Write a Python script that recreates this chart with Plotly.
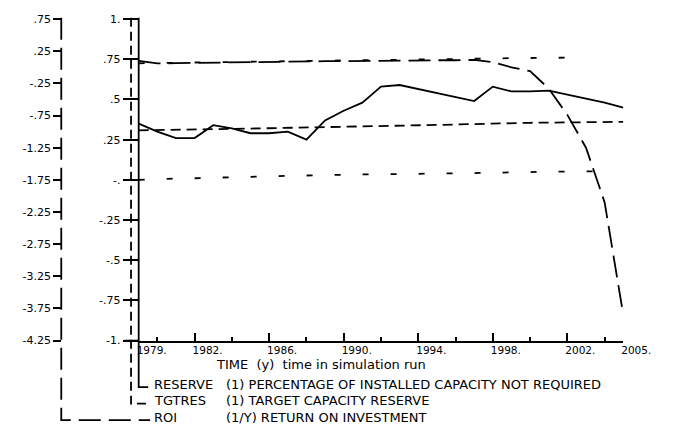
import plotly.graph_objects as go

W, H = 679, 432

# ---------------- data ----------------
years = list(range(1979, 2006))

reserve = [0.35, 0.30, 0.26, 0.26, 0.34, 0.32, 0.29, 0.29, 0.30, 0.25,
           0.37, 0.43, 0.48, 0.58, 0.59, 0.565, 0.54, 0.515, 0.49, 0.58,
           0.55, 0.55, 0.555, 0.53, 0.505, 0.48, 0.45]

tgtres = [0.308, 0.309, 0.311, 0.313, 0.315, 0.317, 0.319, 0.321, 0.322, 0.324,
          0.326, 0.328, 0.330, 0.332, 0.335, 0.338, 0.341, 0.344, 0.347, 0.351,
          0.353, 0.355, 0.356, 0.357, 0.358, 0.359, 0.361]

roi = [0.10, 0.06, 0.065, 0.07, 0.075, 0.08, 0.085, 0.085, 0.09, 0.09,
       0.095, 0.095, 0.10, 0.10, 0.105, 0.105, 0.11, 0.11, 0.115, 0.08,
       0.00, -0.06, -0.33, -0.74, -1.25, -2.10, -3.85]

upper_dotted = [0.725, 0.727, 0.729, 0.731, 0.733, 0.735, 0.737, 0.739, 0.740, 0.741,
                0.742, 0.743, 0.744, 0.745, 0.746, 0.747, 0.749, 0.751, 0.753, 0.755,
                0.757, 0.758, 0.760, 0.760, None, None, None]

lower_dotted = [0.0, 0.005, 0.008, 0.010, 0.012, 0.015, 0.018, 0.022, 0.025, 0.028,
                0.030, 0.033, 0.035, 0.036, 0.036, 0.037, 0.038, 0.040, 0.042, 0.044,
                0.047, 0.050, 0.051, 0.052, 0.053, 0.054, None]

x_tick_years = [1979, 1982, 1986, 1990, 1994, 1998, 2002, 2005]
x_tick_text = ["1979.", "1982.", "1986.", "1990.", "1994.", "1998.", "2002.", "2005."]
x_minor_years = [1980, 1984, 1988, 1992, 1996, 2000, 2004]

left_tick_vals = [1, 0.75, 0.5, 0.25, 0, -0.25, -0.5, -0.75, -1]
left_tick_text = ["1.", ".75", ".5", ".25", "-.", "-.25", "-.5", "-.75", "-1."]

roi_tick_vals = [0.75, 0.25, -0.25, -0.75, -1.25, -1.75, -2.25, -2.75, -3.25, -3.75, -4.25]
roi_tick_text = [".75", ".25", "-.25", "-.75", "-1.25", "-1.75", "-2.25", "-2.75",
                 "-3.25", "-3.75", "-4.25"]

legend_names = ["RESERVE", "TGTRES", "ROI"]
legend_desc = ["(1) PERCENTAGE OF INSTALLED CAPACITY NOT REQUIRED",
               "(1) TARGET CAPACITY RESERVE",
               "(1/Y) RETURN ON INVESTMENT"]
x_title = "TIME  (y)  time in simulation run"

# ---------------- layout helpers ----------------
def px(x):
    return x / W

def py(y):
    return 1 - y / H

FONT = "DejaVu Sans, Liberation Sans, sans-serif"
LW = 1.8

X0, X1 = 143, 650          # 1979 .. 2005
Y_TOP, Y_BOT = 13.5, 345   # +1 .. -1
AX_RES = 143
AX_TGT = 135
AX_ROI = 62

fig = go.Figure()

fig.add_trace(go.Scatter(x=years, y=reserve, mode="lines", name="RESERVE",
                         line=dict(color="black", width=LW)))
fig.add_trace(go.Scatter(x=years, y=tgtres, mode="lines", name="TGTRES",
                         line=dict(color="black", width=LW, dash="10px,6px")))
fig.add_trace(go.Scatter(x=years, y=upper_dotted, mode="lines", showlegend=False,
                         line=dict(color="black", width=LW, dash="6px,22px")))
fig.add_trace(go.Scatter(x=years, y=lower_dotted, mode="lines", showlegend=False,
                         line=dict(color="black", width=LW, dash="6px,22px")))
fig.add_trace(go.Scatter(x=years, y=roi, mode="lines", name="ROI", yaxis="y2",
                         line=dict(color="black", width=LW, dash="22px,8px")))

dom_y = [py(Y_BOT), py(Y_TOP)]

fig.update_layout(
    width=W, height=H,
    margin=dict(l=0, r=0, t=0, b=0),
    paper_bgcolor="white", plot_bgcolor="white",
    showlegend=False,
    font=dict(family=FONT, size=11, color="black"),
    xaxis=dict(
        domain=[px(X0), px(X1)], range=[1979, 2005], anchor="y",
        showgrid=False, zeroline=False,
        showline=True, linecolor="black", linewidth=LW,
        tickmode="array", tickvals=x_tick_years, ticktext=x_tick_text,
        ticks="inside", ticklen=8, tickwidth=1.5, tickcolor="black",
        ticklabelshift=13, ticklabelstandoff=-1, ticklabeloverflow="allow",
        tickfont=dict(family=FONT, size=10.5, color="black"),
        minor=dict(tickvals=x_minor_years, ticks="inside", ticklen=4,
                   tickwidth=1.5, tickcolor="black", showgrid=False),
    ),
    yaxis=dict(
        domain=dom_y, range=[-1, 1], anchor="free", position=px(AX_RES),
        showgrid=False, zeroline=False, showline=False,
        tickmode="array", tickvals=left_tick_vals, ticktext=left_tick_text,
        ticks="outside", ticklen=16, tickwidth=1.5, tickcolor="black",
        tickfont=dict(family=FONT, size=11, color="black"),
    ),
    yaxis2=dict(
        domain=dom_y, range=[-4.25, 0.75], anchor="free", position=px(AX_ROI),
        overlaying="y", side="left",
        showgrid=False, zeroline=False, showline=False,
        tickmode="array", tickvals=roi_tick_vals, ticktext=roi_tick_text,
        ticks="outside", ticklen=8, tickwidth=1.5, tickcolor="black",
        tickfont=dict(family=FONT, size=11, color="black"),
    ),
)

# axis lines with their legend connectors
legend_y = [393, 410, 427]
shapes = [
    dict(type="path", xref="paper", yref="paper",
         path=f"M{px(AX_RES)},{py(12)} L{px(AX_RES)},{py(legend_y[0])} L{px(153)},{py(legend_y[0])}",
         line=dict(color="black", width=LW)),
    dict(type="path", xref="paper", yref="paper",
         path=f"M{px(AX_TGT)},{py(12)} L{px(AX_TGT)},{py(legend_y[1])} L{px(153)},{py(legend_y[1])}",
         line=dict(color="black", width=LW, dash="9px,5px")),
    dict(type="path", xref="paper", yref="paper",
         path=f"M{px(AX_ROI)},{py(12)} L{px(AX_ROI)},{py(legend_y[2])} L{px(155)},{py(legend_y[2])}",
         line=dict(color="black", width=LW, dash="22px,8px")),
    dict(type="line", xref="paper", yref="paper",
         x0=px(128), x1=px(X0), y0=py(Y_BOT), y1=py(Y_BOT),
         line=dict(color="black", width=LW)),
]
fig.update_layout(shapes=shapes)

ann = [dict(text=x_title, x=px(222), y=py(370), xref="paper", yref="paper",
            xanchor="left", yanchor="middle", showarrow=False,
            font=dict(family=FONT, size=13, color="black"))]
for name, desc, ly in zip(legend_names, legend_desc, legend_y):
    ann.append(dict(text=name, x=px(157), y=py(ly - 3), xref="paper", yref="paper",
                    xanchor="left", yanchor="middle", showarrow=False,
                    font=dict(family=FONT, size=13, color="black")))
    ann.append(dict(text=desc, x=px(232), y=py(ly - 3), xref="paper", yref="paper",
                    xanchor="left", yanchor="middle", showarrow=False,
                    font=dict(family=FONT, size=13, color="black")))
fig.update_layout(annotations=ann)

fig.write_html("out.html")
